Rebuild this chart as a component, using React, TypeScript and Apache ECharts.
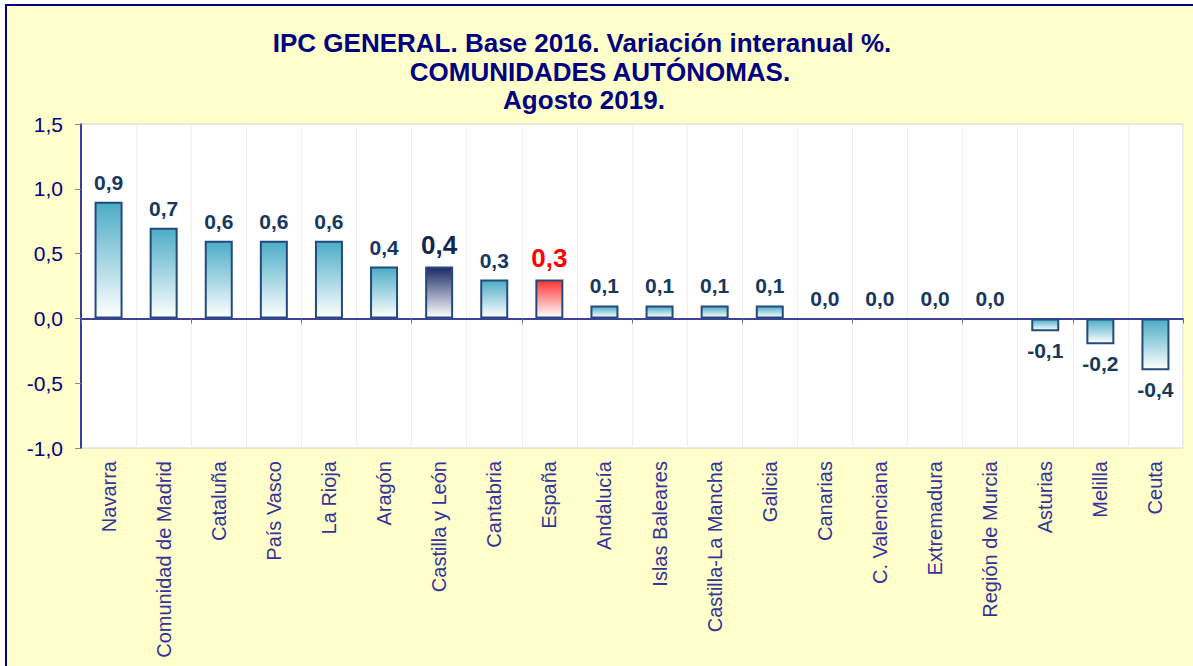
import React, { useEffect, useRef } from "react";
import * as echarts from "echarts";

const categories = [
  "Navarra",
  "Comunidad de Madrid",
  "Cataluña",
  "País Vasco",
  "La Rioja",
  "Aragón",
  "Castilla y León",
  "Cantabria",
  "España",
  "Andalucía",
  "Islas Baleares",
  "Castilla-La Mancha",
  "Galicia",
  "Canarias",
  "C. Valenciana",
  "Extremadura",
  "Región de Murcia",
  "Asturias",
  "Melilla",
  "Ceuta",
];

const values = [0.9, 0.7, 0.6, 0.6, 0.6, 0.4, 0.4, 0.3, 0.3, 0.1, 0.1, 0.1, 0.1, 0.0, 0.0, 0.0, 0.0, -0.1, -0.2, -0.4];

const highlightCategory = "Castilla y León";
const referenceCategory = "España";

const titleLines = [
  "IPC GENERAL. Base 2016. Variación interanual %.",
  "COMUNIDADES AUTÓNOMAS.",
  "Agosto 2019.",
];

const yMin = -1.0;
const yMax = 1.5;
const yStep = 0.5;

const FONT = "'Liberation Sans', Arial, Helvetica, sans-serif";
const fmt = (v: number) => v.toFixed(1).replace(".", ",");

function grad(top: string, bottom: string) {
  return new echarts.graphic.LinearGradient(0, 0, 0, 1, [
    { offset: 0, color: top },
    { offset: 1, color: bottom },
  ]);
}

export default function App() {
  const ref = useRef<HTMLDivElement>(null);

  useEffect(() => {
    if (!ref.current) return;
    const chart = echarts.init(ref.current, undefined, { renderer: "svg" });

    const data = values.map((v, i) => {
      const cat = categories[i];
      let color: any = grad("#4BACC6", "#FFFFFF");
      let labelColor = "#17375E";
      let labelSize = 21;
      if (cat === highlightCategory) {
        color = grad("#1A2A66", "#FFFFFF");
        labelColor = "#12264F";
        labelSize = 26;
      } else if (cat === referenceCategory) {
        color = grad("#FF3333", "#FFFFFF");
        labelColor = "#FF0000";
        labelSize = 26;
      }
      const label: any = { color: labelColor, fontSize: labelSize };
      if (v === 0) label.position = "top";
      return {
        value: v,
        itemStyle: { color, borderWidth: v === 0 ? 0 : 2 },
        label,
      };
    });

    const titleX = [582, 600, 584];
    const titleY = [43, 72, 100];

    chart.setOption({
      animation: false,
      backgroundColor: "transparent",
      textStyle: { fontFamily: FONT },
      graphic: titleLines.map((t, i) => ({
        type: "text",
        x: titleX[i],
        y: titleY[i],
        z: 100,
        style: {
          text: t,
          fill: "#000080",
          font: `bold 26px ${FONT}`,
          textAlign: "center",
          textVerticalAlign: "middle",
        },
      })),
      grid: {
        left: 81,
        right: 10,
        top: 124,
        bottom: 218,
        show: true,
        backgroundColor: "#FFFFFF",
        borderColor: "#D0D0D0",
        borderWidth: 1,
      },
      xAxis: [
        {
          type: "category",
          data: categories,
          position: "bottom",
          axisLine: { show: false, onZero: false },
          axisTick: { show: false },
          axisLabel: {
            rotate: 90,
            interval: 0,
            margin: 13,
            fontSize: 20,
            color: "#333399",
            fontFamily: FONT,
          },
          splitLine: { show: true, interval: 0, lineStyle: { color: "#EEEEEE", width: 1 } },
        },
        {
          type: "category",
          data: categories,
          position: "bottom",
          axisLine: { show: true, onZero: true, lineStyle: { color: "#000080", width: 1.5 } },
          axisTick: { show: true, interval: 1, length: 5, lineStyle: { color: "#6666AA" } },
          axisLabel: { show: false },
          splitLine: { show: false },
        },
      ],
      yAxis: {
        type: "value",
        min: yMin,
        max: yMax,
        interval: yStep,
        axisLine: { show: true, lineStyle: { color: "#000080", width: 1.5 } },
        axisTick: { show: true, length: 6, lineStyle: { color: "#888888" } },
        axisLabel: { fontSize: 21, color: "#000080", margin: 18, formatter: (v: number) => fmt(v), fontFamily: FONT },
        splitLine: { show: false },
      },
      series: [
        {
          type: "bar",
          xAxisIndex: 0,
          data,
          barWidth: 28,
          itemStyle: { borderColor: "#244A7C", borderWidth: 2 },
          label: {
            show: true,
            position: "outside",
            distance: 9,
            fontWeight: "bold",
            fontFamily: FONT,
            formatter: (p: any) => fmt(p.value),
          },
        },
      ],
    });

    return () => chart.dispose();
  }, []);

  return (
    <div style={{ position: "absolute", left: 0, top: 0, width: 1193, height: 666, background: "#FFFFFF", overflow: "hidden" }}>
      <div
        style={{
          position: "absolute",
          left: 5,
          top: 4,
          width: 1300,
          height: 800,
          background: "#FFFFCC",
          border: "2px solid #000080",
        }}
      />
      <div ref={ref} style={{ position: "absolute", left: 0, top: 0, width: 1193, height: 666 }} />
    </div>
  );
}
